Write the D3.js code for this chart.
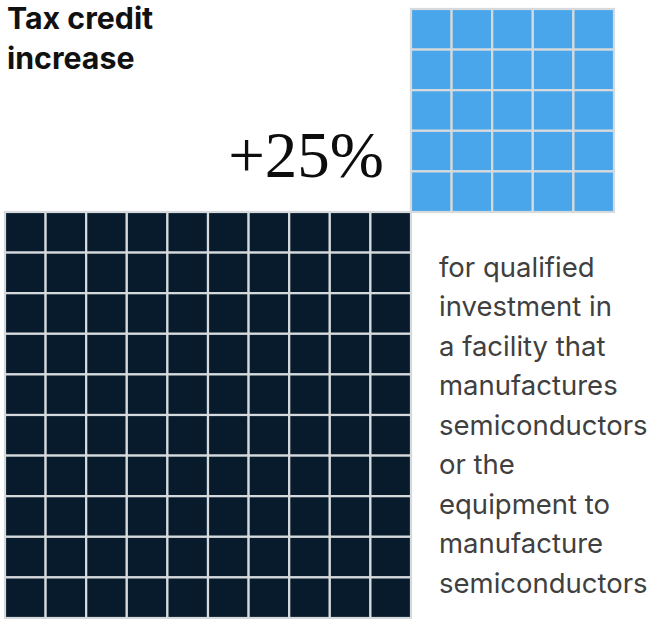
<!DOCTYPE html>
<html>
<head>
<meta charset="utf-8">
<script src="https://cdn.jsdelivr.net/npm/d3@7"></script>
<style>
  html, body { margin: 0; padding: 0; background: #ffffff; }
  svg { display: block; }
</style>
</head>
<body>
<svg id="chart" width="648" height="619"></svg>
<script>
// Base credit shown as a 10x10 block (100 units); the increase as 25 units on top.
const baseUnits = 100;
const baseColumns = 10;
const increaseUnits = 25;
const increaseColumns = 5;
const increaseLabel = "+25%";
const titleLines = ["Tax credit", "increase"];
const noteLines = [
  "for qualified",
  "investment in",
  "a facility that",
  "manufactures",
  "semiconductors",
  "or the",
  "equipment to",
  "manufacture",
  "semiconductors"
];

const svg = d3.select("#chart");
const pitch = 40.6;            // size of one unit square
const gridLeft = 5;
const gridTop = 212;

// Band scales that place unit squares in columns/rows
function unitScale(count, start) {
  return d3.scaleBand()
    .domain(d3.range(count))
    .range([start, start + count * pitch])
    .paddingInner(0).paddingOuter(0);
}

function drawBlock(units, cols, x0, y0, fill) {
  const rows = Math.ceil(units / cols);
  const xs = unitScale(cols, x0);
  const ys = unitScale(rows, y0);
  svg.append("g")
    .selectAll("rect")
    .data(d3.range(units))
    .join("rect")
    .attr("x", i => xs(i % cols))
    .attr("y", i => ys(Math.floor(i / cols)))
    .attr("width", xs.bandwidth())
    .attr("height", ys.bandwidth())
    .attr("fill", fill)
    .attr("stroke", "#d6dadd")
    .attr("stroke-width", 2.2);
  return { rows, width: cols * pitch, height: rows * pitch };
}

const base = drawBlock(baseUnits, baseColumns, gridLeft, gridTop, "#071b2c");
const incRows = Math.ceil(increaseUnits / increaseColumns);
drawBlock(increaseUnits, increaseColumns,
  gridLeft + base.width, gridTop - incRows * pitch, "#4aa6ea");

// Title
svg.append("text")
  .attr("font-family", "Inter, 'Liberation Sans', sans-serif")
  .attr("font-weight", 700)
  .attr("font-size", 30.3)
  .attr("fill", "#111111")
  .selectAll("tspan")
  .data(titleLines)
  .join("tspan")
  .attr("x", 7)
  .attr("y", (d, i) => 28.5 + i * 40)
  .text(d => d);

// Big percentage label
svg.append("text")
  .attr("x", 384)
  .attr("y", 177)
  .attr("text-anchor", "end")
  .attr("font-family", "'Liberation Serif', 'Times New Roman', serif")
  .attr("font-size", 65)
  .attr("fill", "#0d0d0d")
  .text(increaseLabel);

// Explanatory note
svg.append("text")
  .attr("font-family", "Inter, 'Liberation Sans', sans-serif")
  .attr("font-size", 27.5)
  .attr("fill", "#404040")
  .selectAll("tspan")
  .data(noteLines)
  .join("tspan")
  .attr("x", 439)
  .attr("y", (d, i) => 276.5 + i * 39.5)
  .text(d => d);
</script>
</body>
</html>
